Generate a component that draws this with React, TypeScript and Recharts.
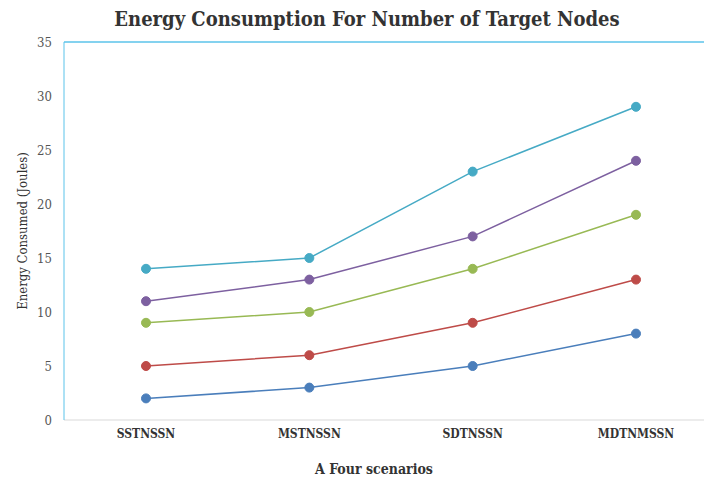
import React from 'react';
import { LineChart, Line, XAxis, YAxis, ReferenceLine } from 'recharts';

const scenarios = ['SSTNSSN', 'MSTNSSN', 'SDTNSSN', 'MDTNMSSN'];
const seriesA = [2, 3, 5, 8];
const seriesB = [5, 6, 9, 13];
const seriesC = [9, 10, 14, 19];
const seriesD = [11, 13, 17, 24];
const seriesE = [14, 15, 23, 29];
const yTicks = [0, 5, 10, 15, 20, 25, 30, 35];

const SERIES = [
  { key: 'a', values: seriesA, color: '#4a7ebb' },
  { key: 'b', values: seriesB, color: '#be4b48' },
  { key: 'c', values: seriesC, color: '#98b954' },
  { key: 'd', values: seriesD, color: '#7d60a0' },
  { key: 'e', values: seriesE, color: '#46aac5' },
];

const data = scenarios.map((name, i) => {
  const row: Record<string, number | string> = { name };
  SERIES.forEach(s => { row[s.key] = s.values[i]; });
  return row;
});

const serif = '"DejaVu Serif Condensed", "DejaVu Serif", serif';

export default function App() {
  return (
    <div style={{ position: 'absolute', left: 0, top: 0, width: 704, height: 478, overflow: 'hidden', background: '#fff' }}>
      <div style={{
        position: 'absolute', left: 0, top: 7, width: 734, textAlign: 'center',
        fontFamily: serif, fontWeight: 'bold', fontSize: 20, color: '#333',
      }}>
        Energy Consumption For Number of Target Nodes
      </div>
      <LineChart width={704} height={478} data={data} margin={{ top: 42, right: 0, bottom: 0, left: 0 }}>
        <XAxis
          dataKey="name"
          stroke="#d9d9d9"
          tickLine={false}
          tickSize={0}
          tickMargin={9}
          height={58}
          padding={{ left: 82, right: 68 }}
          tick={{ fill: '#333', fontFamily: serif, fontWeight: 'bold', fontSize: 12 }}
          label={{ value: 'A Four scenarios', position: 'insideBottom', offset: 4, dx: -10, fill: '#333', fontFamily: serif, fontWeight: 'bold', fontSize: 14 }}
        />
        <YAxis
          domain={[0, 35]}
          ticks={yTicks}
          width={64}
          stroke="#5bc3ea"
          tickLine={false}
          tickSize={0}
          tickMargin={12}
          tick={{ fill: '#555', fontFamily: serif, fontSize: 13 }}
          label={{ value: 'Energy Consumed (Joules)', angle: -90, position: 'insideLeft', offset: 22, fill: '#333', fontFamily: serif, fontSize: 13, style: { textAnchor: 'middle' } }}
        />
        <ReferenceLine y={35} stroke="#5bc3ea" strokeWidth={1.5} />
        {SERIES.map(s => (
          <Line
            key={s.key}
            dataKey={s.key}
            stroke={s.color}
            strokeWidth={1.5}
            dot={{ r: 4.5, fill: s.color, stroke: s.color, strokeWidth: 1 }}
            isAnimationActive={false}
          />
        ))}
      </LineChart>
    </div>
  );
}
